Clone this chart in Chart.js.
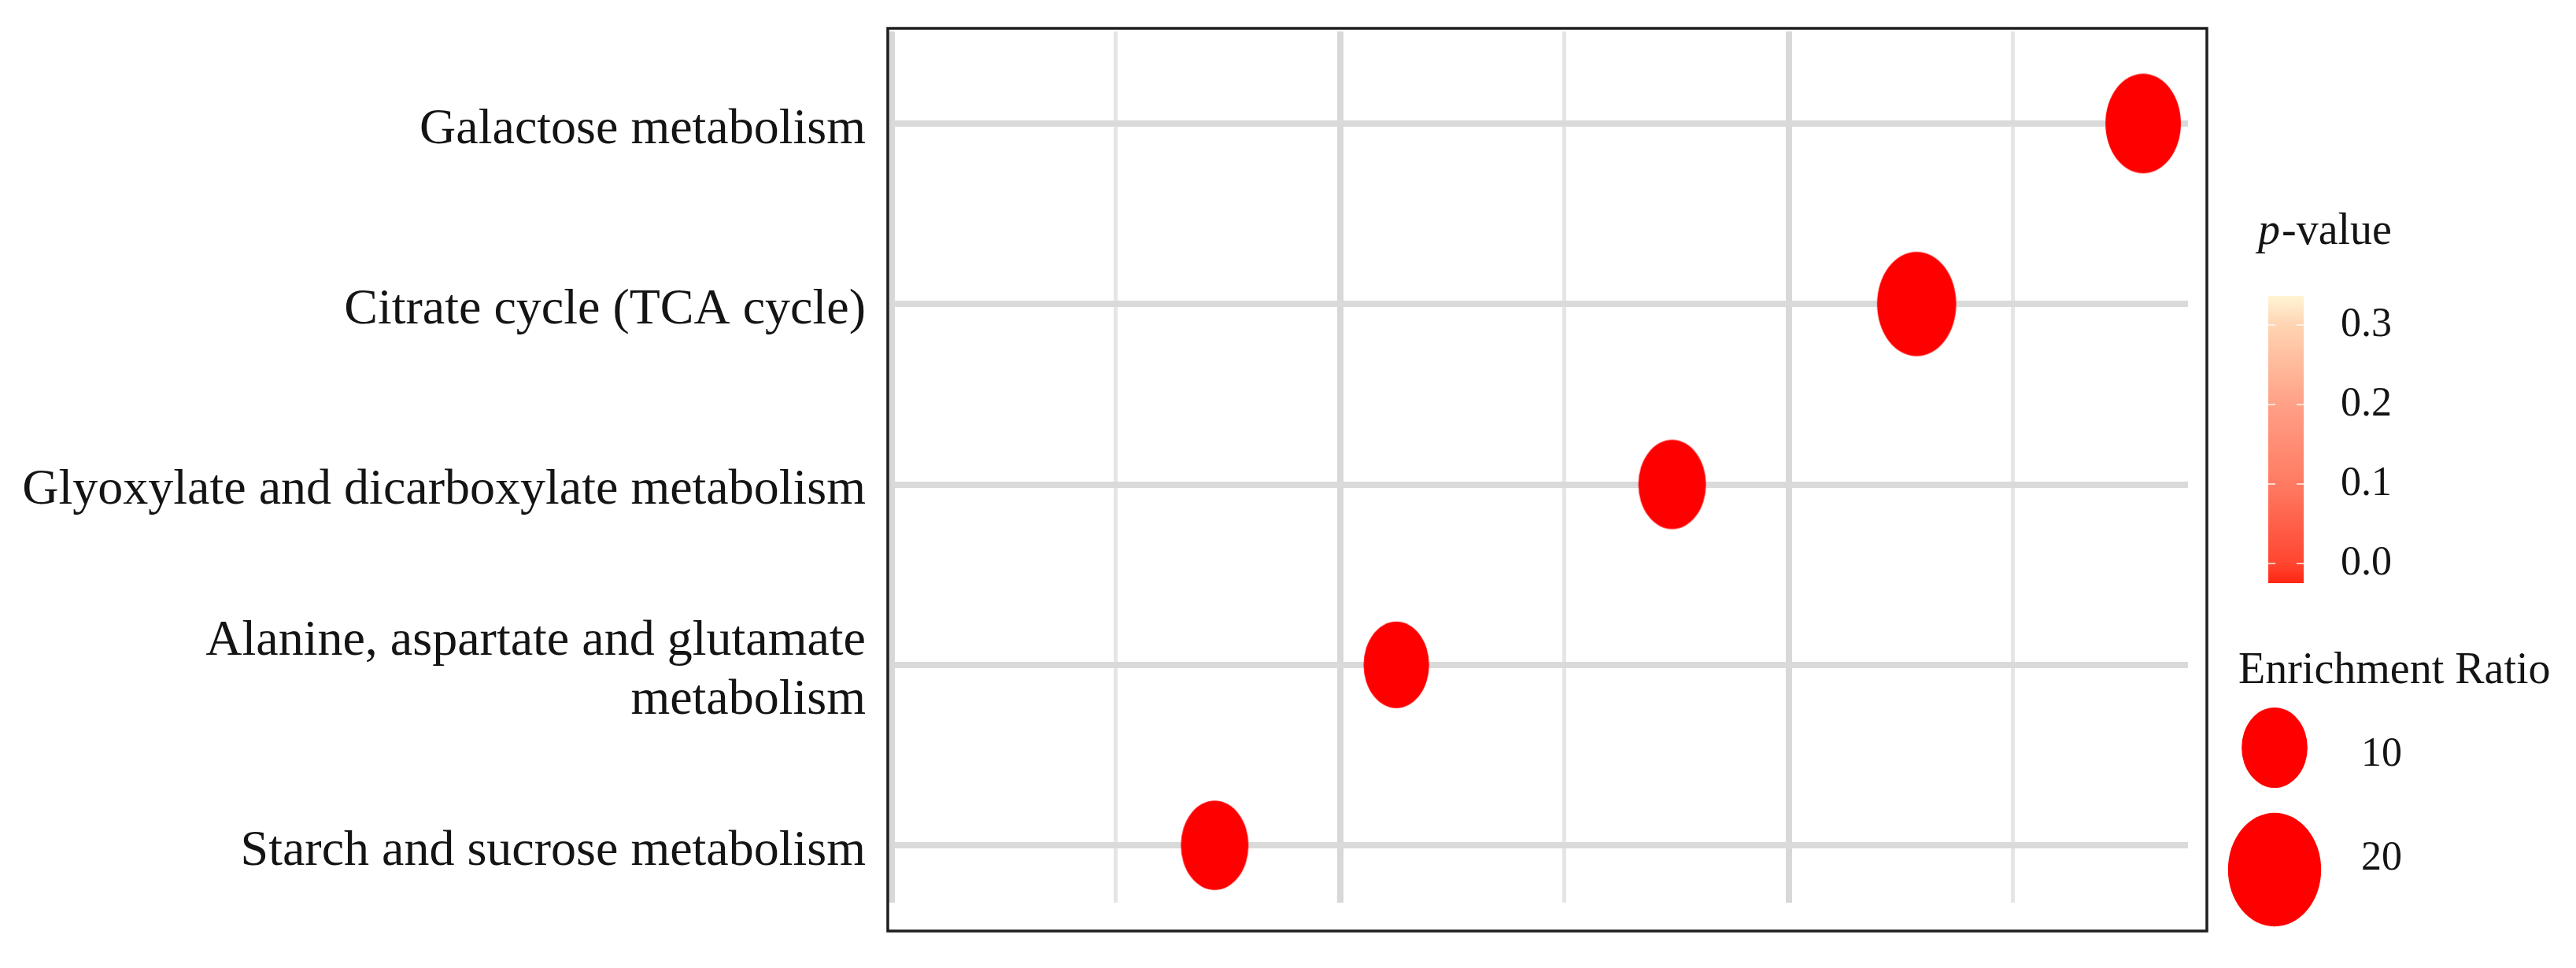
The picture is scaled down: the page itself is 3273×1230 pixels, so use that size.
<!DOCTYPE html>
<html lang="en">
<head>
<meta charset="UTF-8">
<title>Pathway enrichment</title>
<script src="https://cdn.jsdelivr.net/npm/chart.js"></script>
<style>
  html, body { margin: 0; padding: 0; background: #fff; }
  canvas { display: block; }
</style>
</head>
<body>
<canvas id="enrichChart" width="3273" height="1230"></canvas>
<script>
  // pathways, top to bottom
  const pathways = [
    'Galactose metabolism',
    'Citrate cycle (TCA cycle)',
    'Glyoxylate and dicarboxylate metabolism',
    ['Alanine, aspartate and glutamate', 'metabolism'],
    'Starch and sucrose metabolism'
  ];
  // horizontal position (axis has no tick labels in the figure)
  const xValues = [5.58, 4.57, 3.48, 2.25, 1.44];
  const enrichmentRatio = [14.2, 15.6, 11.4, 10.7, 11.4];

  const xGridTicks = [0, 1, 2, 3, 4, 5];
  const pTicks = [0.0, 0.1, 0.2, 0.3];
  const sizeLegendValues = [10, 20];

  const FONT = "'Liberation Serif', 'Times New Roman', serif";
  const TEXT = '#141414';
  const DOT = '#ff0000';
  const AREA_PER_UNIT = 855;     // px^2 of ellipse per unit of enrichment ratio
  const ASPECT_PLOT = 1.32;
  const ASPECT_KEY = 1.22;

  // p-value colour ramp for the bar
  const pStops = [
    [-0.03, [255, 30, 12]],
    [0.0, [255, 70, 48]],
    [0.1, [255, 122, 98]],
    [0.2, [255, 160, 134]],
    [0.3, [255, 212, 178]],
    [0.34, [255, 248, 215]]
  ];

  function colorFor(p) {
    if (p <= pStops[0][0]) return rgb(pStops[0][1]);
    for (let i = 1; i < pStops.length; i++) {
      if (p <= pStops[i][0]) {
        const a = pStops[i - 1], b = pStops[i];
        const t = (p - a[0]) / (b[0] - a[0]);
        return rgb(a[1].map((c, k) => c + (b[1][k] - c) * t));
      }
    }
    return rgb(pStops[pStops.length - 1][1]);
  }
  function rgb(c) {
    return 'rgb(' + c.map(Math.round).join(',') + ')';
  }

  function ellipseSize(ratio, aspect) {
    const w = Math.sqrt(AREA_PER_UNIT * ratio / aspect);
    return { w: w, h: w * aspect };
  }

  function ellipseImage(ratio, aspect, color) {
    const s = ellipseSize(ratio, aspect);
    const c = document.createElement('canvas');
    c.width = Math.ceil(s.w) + 2;
    c.height = Math.ceil(s.h) + 2;
    const g = c.getContext('2d');
    g.fillStyle = color;
    g.beginPath();
    g.ellipse(c.width / 2, c.height / 2, s.w / 2, s.h / 2, 0, 0, Math.PI * 2);
    g.fill();
    return c;
  }

  const pointImages = enrichmentRatio.map(r => ellipseImage(r, ASPECT_PLOT, DOT));

  const framePlugin = {
    id: 'frame',
    afterDraw(chart) {
      const { ctx, chartArea: a } = chart;
      ctx.save();
      ctx.strokeStyle = '#1e1e1e';
      ctx.lineWidth = 3.5;
      ctx.strokeRect(a.left - 5, a.top - 4, (a.right + 24) - (a.left - 5), (a.bottom + 36) - (a.top - 4));
      ctx.restore();
    }
  };

  const keyPlugin = {
    id: 'keys',
    afterDraw(chart) {
      const ctx = chart.ctx;
      ctx.save();
      ctx.fillStyle = TEXT;
      ctx.textBaseline = 'alphabetic';
      ctx.textAlign = 'left';

      // p-value title
      ctx.font = 'italic 56px ' + FONT;
      ctx.fillText('p', 2869, 310);
      const pw = ctx.measureText('p').width;
      ctx.font = '56px ' + FONT;
      ctx.fillText('-value', 2869 + pw + 2, 310);

      // colour bar
      const barL = 2882, barW = 45, barTop = 376, barBot = 741;
      const yFor = v => 716 - v * 1010;
      const vTop = (716 - barTop) / 1010, vBot = (716 - barBot) / 1010;
      const grad = ctx.createLinearGradient(0, barBot, 0, barTop);
      const n = 30;
      for (let i = 0; i <= n; i++) {
        const v = vBot + (vTop - vBot) * i / n;
        grad.addColorStop(i / n, colorFor(v));
      }
      ctx.fillStyle = grad;
      ctx.fillRect(barL, barTop, barW, barBot - barTop);

      ctx.strokeStyle = 'rgba(255,255,255,0.7)';
      ctx.lineWidth = 2;
      pTicks.forEach(v => {
        const y = yFor(v);
        ctx.beginPath();
        ctx.moveTo(barL, y); ctx.lineTo(barL + 9, y);
        ctx.moveTo(barL + barW - 9, y); ctx.lineTo(barL + barW, y);
        ctx.stroke();
      });

      ctx.fillStyle = TEXT;
      ctx.font = '52px ' + FONT;
      ctx.textBaseline = 'middle';
      pTicks.forEach(v => ctx.fillText(v.toFixed(1), 2974, yFor(v)));

      // size key
      ctx.textBaseline = 'alphabetic';
      ctx.font = '56px ' + FONT;
      ctx.fillText('Enrichment Ratio', 2844, 868);

      const keyY = [950, 1105];
      const keyLabelY = [959, 1091];
      ctx.font = '52px ' + FONT;
      ctx.textBaseline = 'middle';
      sizeLegendValues.forEach((v, i) => {
        const s = ellipseSize(v, ASPECT_KEY);
        ctx.fillStyle = DOT;
        ctx.beginPath();
        ctx.ellipse(2890, keyY[i], s.w / 2, s.h / 2, 0, 0, Math.PI * 2);
        ctx.fill();
        ctx.fillStyle = TEXT;
        ctx.fillText(String(v), 3000, keyLabelY[i]);
      });
      ctx.restore();
    }
  };

  const ctx = document.getElementById('enrichChart').getContext('2d');
  new Chart(ctx, {
    type: 'scatter',
    data: {
      datasets: [{
        label: 'Enrichment',
        data: xValues.map((x, i) => ({ x: x, y: i })),
        pointStyle: c => pointImages[c.dataIndex],
        pointRadius: 10,
        pointHoverRadius: 10
      }]
    },
    options: {
      responsive: false,
      animation: false,
      layout: { padding: { left: 0, right: 493, top: 40, bottom: 83 } },
      plugins: {
        legend: { display: false },
        tooltip: { enabled: false }
      },
      scales: {
        x: {
          type: 'linear',
          min: 0,
          max: 5.78,
          afterBuildTicks: s => { s.ticks = xGridTicks.map(v => ({ value: v })); },
          afterFit: s => { s.height = 0; s.paddingLeft = 0; s.paddingRight = 0; },
          ticks: { display: false },
          border: { display: false },
          grid: {
            drawTicks: false,
            color: c => (c.tick && c.tick.value % 2 === 0) ? '#d8d8d8' : '#e5e5e5',
            lineWidth: c => (c.tick && c.tick.value % 2 === 0) ? 8 : 5
          }
        },
        y: {
          type: 'linear',
          reverse: true,
          min: -0.51,
          max: 4.318,
          afterBuildTicks: s => { s.ticks = pathways.map((_, i) => ({ value: i })); },
          afterFit: s => { s.width = 1133; s.paddingTop = 0; s.paddingBottom = 0; },
          border: { display: false },
          ticks: {
            autoSkip: false,
            padding: 33,
            labelOffset: 8,
            color: TEXT,
            font: { family: FONT, size: 64, lineHeight: 1.17 },
            callback: v => pathways[v]
          },
          grid: {
            drawTicks: false,
            color: '#dadada',
            lineWidth: 8
          }
        }
      }
    },
    plugins: [framePlugin, keyPlugin]
  });
</script>
</body>
</html>
